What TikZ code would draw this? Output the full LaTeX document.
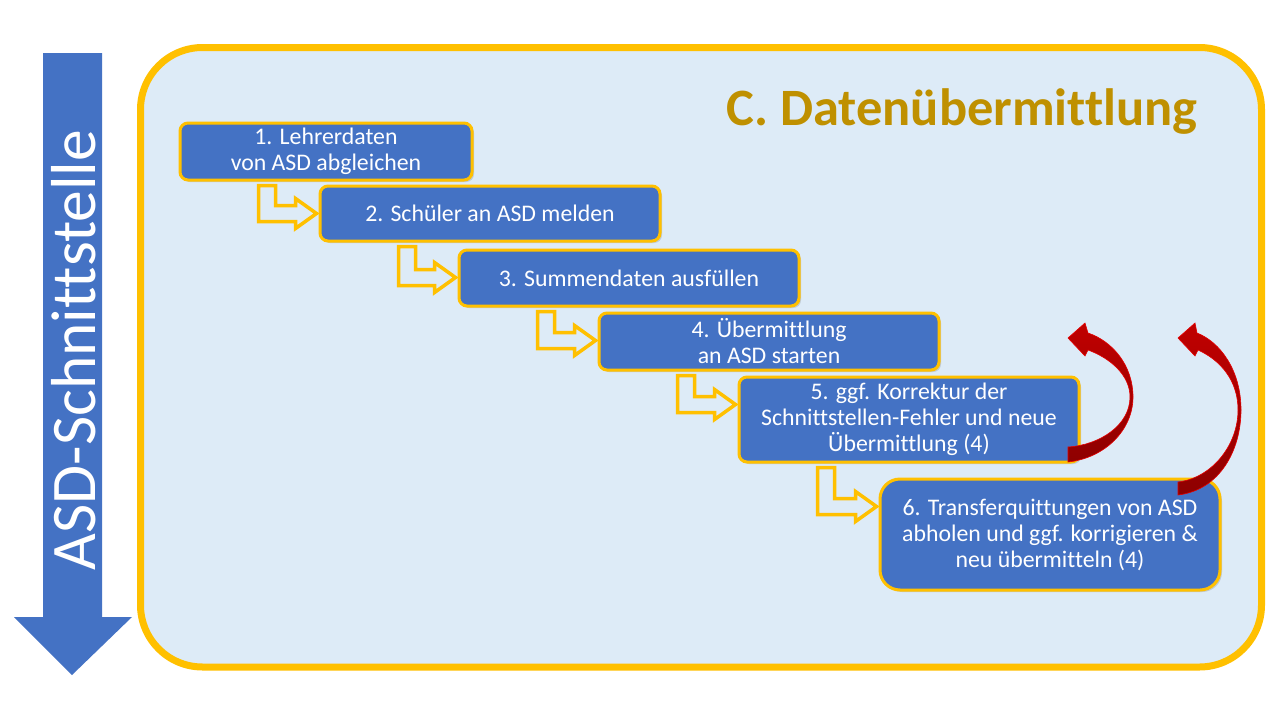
\documentclass[tikz,border=0pt]{standalone}
\usepackage{fontspec}
\setmainfont[Ligatures=NoCommon]{Carlito}
\usetikzlibrary{calc,shadows}
\definecolor{boxblue}{HTML}{4472C4}
\definecolor{gold}{HTML}{FFC000}
\definecolor{bglight}{HTML}{DDEBF7}
\definecolor{titlegold}{HTML}{BF9000}
\definecolor{redA}{HTML}{C00000}
\definecolor{redB}{HTML}{8E0000}
\tikzset{
  stepbox/.style={rectangle, rounded corners=8pt, fill=boxblue, draw=gold, line width=3pt,
    text=white, align=center, inner sep=0pt, minimum width=340pt,
    font=\fontsize{23.8}{26}\selectfont,
    drop shadow={shadow xshift=2pt, shadow yshift=-2pt, opacity=0.3}},
  bentarrow/.style={draw=gold, line width=3.5pt, fill=bglight, line join=miter},
  redarrow/.style={top color=redA, bottom color=redB, draw=red!90!black, line width=0.6pt},
}
\newcommand\bentarr[2]{%
  \draw[bentarrow] let \p1=($(#1.south west)+(80,4)$), \p2=($(#2.north west)+(-2,29)$) in
  (\x1,\y1) -- (\x1,\y2-8pt) -- (\x2-21pt,\y2-8pt) -- (\x2-21pt,\y2-15pt) -- (\x2,\y2)
  -- (\x2-21pt,\y2+15pt) -- (\x2-21pt,\y2+8pt) -- (\x1+17pt,\y2+8pt) -- (\x1+17pt,\y1) -- cycle;}
\begin{document}
\begin{tikzpicture}[x=1pt,y=-1pt]
\useasboundingbox (0,0) rectangle (1280,720);
\fill[white] (0,0) rectangle (1280,720);
% left big arrow
\fill[boxblue] (43,53) -- (102,53) -- (102,617) -- (132,617) -- (72,675) -- (14,617) -- (43,617) -- cycle;
\node[rotate=90, text=white, font=\fontsize{63.5}{64}\selectfont, inner sep=0pt] (side) at (74,350) {ASD-Schnittstelle};
% frame
\draw[gold, line width=7pt, fill=bglight, rounded corners=62pt] (140.5,47.5) rectangle (1261.5,667);
\node[anchor=base east, text=titlegold, font=\fontsize{52.5}{53}\selectfont\bfseries, inner sep=0pt] (title) at (1198,125) {C. Datenübermittlung};
% boxes
\node[stepbox, minimum width=292pt, minimum height=57pt] (b1) at (326,151.5) {1. Lehrerdaten\\von ASD abgleichen};
\node[stepbox, minimum height=55pt] (b2) at (490,213.5) {2. Schüler an ASD melden};
\node[stepbox, minimum height=56pt] (b3) at (629,278) {3. Summendaten ausfüllen};
\node[stepbox, minimum height=57pt] (b4) at (769,341.5) {4. Übermittlung\\an ASD starten};
\node[stepbox, minimum height=85pt] (b5) at (909,419.5) {5. ggf. Korrektur der\\Schnittstellen-Fehler und neue\\Übermittlung (4)};
\node[stepbox, minimum height=111pt, rounded corners=20pt] (b6) at (1050,534.5) {6. Transferquittungen von ASD\\abholen und ggf. korrigieren \&\\neu übermitteln (4)};
% bent arrows
\bentarr{b1}{b2}
\bentarr{b2}{b3}
\bentarr{b3}{b4}
\bentarr{b4}{b5}
\bentarr{b5}{b6}
% red curved arrows
\coordinate (ra) at (1068,462);
\coordinate (rb) at (1178,495);
\path[redarrow] (ra) .. controls (1105,458) and (1133,430) .. (1133,397)
  .. controls (1133,365) and (1112,341) .. (1088,333)
  -- (1085,323) -- (1068,338) -- (1085,356) -- (1088,350)
  .. controls (1110,358) and (1130,375) .. (1130,397)
  .. controls (1130,425) and (1100,445) .. (1068,447) -- cycle;
\path[redarrow] (rb) .. controls (1220,490) and (1241,450) .. (1241,410)
  .. controls (1241,370) and (1220,342) .. (1197,333)
  -- (1195,323) -- (1178,338) -- (1195,356) -- (1198,350)
  .. controls (1220,360) and (1238,380) .. (1238,410)
  .. controls (1238,445) and (1212,478) .. (1178,482) -- cycle;
\end{tikzpicture}
\end{document}
